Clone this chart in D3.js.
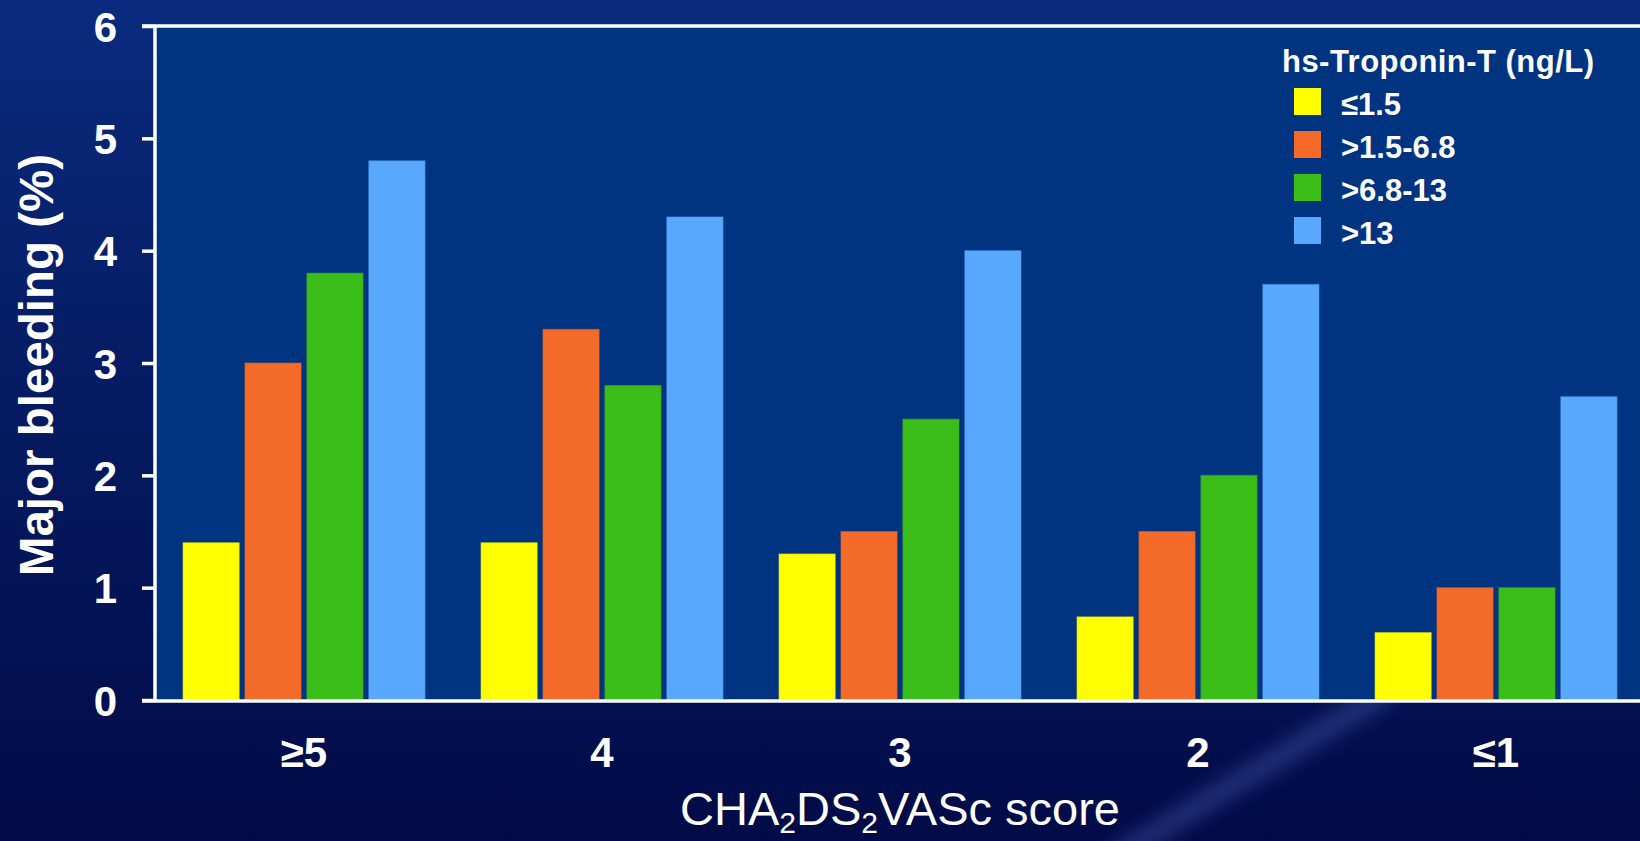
<!DOCTYPE html>
<html>
<head>
<meta charset="utf-8">
<script src="https://cdn.jsdelivr.net/npm/d3@7"></script>
<style>
  html, body { margin: 0; padding: 0; background: #020d4a; overflow: hidden; }
  svg { display: block; }
  text { font-family: "Liberation Sans", Arial, Helvetica, sans-serif; fill: #fff; }
</style>
</head>
<body>
<svg id="chart" width="1640" height="841"></svg>
<script>
// CHA2DS2VASc score groups along the x axis
const categories = ["≥5", "4", "3", "2", "≤1"];
// hs-Troponin-T strata (legend)
const seriesNames = ["≤1.5", ">1.5-6.8", ">6.8-13", ">13"];
const seriesColors = ["#ffff00", "#f46a29", "#3bbe1a", "#58a8ff"];
// Major bleeding (%) per score group, one array per troponin stratum
const troponinLow = [1.4, 1.4, 1.3, 0.74, 0.6];
const troponinMid = [3.0, 3.3, 1.5, 1.5, 1.0];
const troponinHigh = [3.8, 2.8, 2.5, 2.0, 1.0];
const troponinTop = [4.8, 4.3, 4.0, 3.7, 2.7];
const yTicks = [0, 1, 2, 3, 4, 5, 6];

const seriesValues = [troponinLow, troponinMid, troponinHigh, troponinTop];
const rows = categories.map((c, i) => ({
  cat: c,
  vals: seriesNames.map((s, k) => ({ key: s, value: seriesValues[k][i], color: seriesColors[k] }))
}));

const W = 1640, H = 841;
const svg = d3.select("#chart");
const defs = svg.append("defs");

// page background: deep navy vertical gradient
const bg = defs.append("linearGradient").attr("id", "bgGrad").attr("x1", 0).attr("y1", 0).attr("x2", 0).attr("y2", 1);
bg.append("stop").attr("offset", "0%").attr("stop-color", "#0a2b7e");
bg.append("stop").attr("offset", "40%").attr("stop-color", "#061d66");
bg.append("stop").attr("offset", "100%").attr("stop-color", "#010b47");
svg.append("rect").attr("width", W).attr("height", H).attr("fill", "url(#bgGrad)");

// faint diagonal light streak in the lower right
const blur = defs.append("filter").attr("id", "streakBlur").attr("x", "-50%").attr("y", "-50%").attr("width", "200%").attr("height", "200%");
blur.append("feGaussianBlur").attr("stdDeviation", 9);
svg.append("line")
  .attr("x1", 1110).attr("y1", 860).attr("x2", 1390).attr("y2", 690)
  .attr("stroke", "#5c70c8").attr("stroke-opacity", 0.35).attr("stroke-width", 22)
  .attr("filter", "url(#streakBlur)");

const plot = { left: 155, top: 26, right: 1645, bottom: 700 };

const x = d3.scaleBand().domain(categories)
  .range([plot.left, plot.right])
  .paddingInner(56 / 298).paddingOuter(28 / 298);
const xs = d3.scaleBand().domain(seriesNames)
  .range([0, x.bandwidth()]).paddingInner(0.092).paddingOuter(0);
const y = d3.scaleLinear().domain([0, 6]).range([plot.bottom, plot.top]);

// plot area
svg.append("rect")
  .attr("x", plot.left).attr("y", plot.top)
  .attr("width", W - plot.left).attr("height", plot.bottom - plot.top)
  .attr("fill", "#003480");

// bars
const groups = svg.append("g").selectAll("g").data(rows).join("g")
  .attr("transform", d => `translate(${x(d.cat)},0)`);
groups.selectAll("rect").data(d => d.vals).join("rect")
  .attr("x", d => xs(d.key))
  .attr("y", d => y(d.value))
  .attr("width", xs.bandwidth())
  .attr("height", d => y(0) - y(d.value))
  .attr("fill", d => d.color)
  .attr("stroke", d => d3.color(d.color).darker(0.4))
  .attr("stroke-opacity", 0.6)
  .attr("stroke-width", 1);

// y axis
const yAxis = svg.append("g")
  .attr("transform", `translate(${plot.left},0)`)
  .call(d3.axisLeft(y).tickValues(yTicks).tickSize(13).tickPadding(25).tickFormat(d3.format("d")));
yAxis.select(".domain").remove();
yAxis.selectAll(".tick line").attr("stroke", "#fff").attr("stroke-width", 3.5);
yAxis.selectAll(".tick text")
  .attr("fill", "#fff").attr("font-size", 42).attr("font-weight", "bold")
  .attr("font-family", "'Liberation Sans', Arial, sans-serif").attr("dy", "0.36em");

// frame: left, top and bottom lines
svg.append("line").attr("x1", plot.left).attr("x2", plot.left)
  .attr("y1", plot.top).attr("y2", plot.bottom + 2)
  .attr("stroke", "#fff").attr("stroke-width", 3.5);
svg.append("line").attr("x1", plot.left - 13).attr("x2", W)
  .attr("y1", plot.top).attr("y2", plot.top)
  .attr("stroke", "#fff").attr("stroke-width", 3.5);
svg.append("line").attr("x1", plot.left - 13).attr("x2", W)
  .attr("y1", plot.bottom + 1).attr("y2", plot.bottom + 1)
  .attr("stroke", "#fff").attr("stroke-width", 3.5);

// x axis category labels
const xAxis = svg.append("g")
  .attr("transform", `translate(0,${plot.bottom})`)
  .call(d3.axisBottom(x).tickSize(0).tickPadding(0));
xAxis.select(".domain").remove();
xAxis.selectAll(".tick text")
  .attr("fill", "#fff").attr("font-size", 42).attr("font-weight", "bold")
  .attr("font-family", "'Liberation Sans', Arial, sans-serif")
  .attr("dy", 0).attr("y", 67);

// x axis title with subscripts
const xt = svg.append("text")
  .attr("x", x(categories[2]) + x.bandwidth() / 2).attr("y", 825)
  .attr("text-anchor", "middle").attr("font-size", 47);
const parts = [["CHA", false], ["2", true], ["DS", false], ["2", true], ["VASc score", false]];
parts.forEach(([t, sub], i) => {
  const ts = xt.append("tspan").text(t);
  if (sub) ts.attr("font-size", 30).attr("dy", 8);
  else if (i > 0) ts.attr("dy", -8);
});

// y axis title
svg.append("text")
  .attr("transform", `translate(53,${(plot.top + plot.bottom) / 2 + 2}) rotate(-90)`)
  .attr("text-anchor", "middle").attr("font-size", 47.5).attr("font-weight", "bold")
  .text("Major bleeding (%)");

// legend
const legend = svg.append("g").attr("transform", "translate(1282,72)");
legend.append("text").attr("x", 0).attr("y", 0)
  .attr("font-size", 31).attr("font-weight", "bold")
  .attr("textLength", 312).attr("lengthAdjust", "spacing")
  .text("hs-Troponin-T (ng/L)");
const items = legend.selectAll("g.item").data(seriesNames).join("g")
  .attr("class", "item")
  .attr("transform", (d, i) => `translate(0,${16 + i * 43})`);
items.append("rect").attr("x", 12).attr("y", 0).attr("width", 27).attr("height", 27)
  .attr("fill", (d, i) => seriesColors[i]);
items.append("text").attr("x", 59).attr("y", 27)
  .attr("font-size", 31).attr("font-weight", "bold")
  .text(d => d);
</script>
</body>
</html>
